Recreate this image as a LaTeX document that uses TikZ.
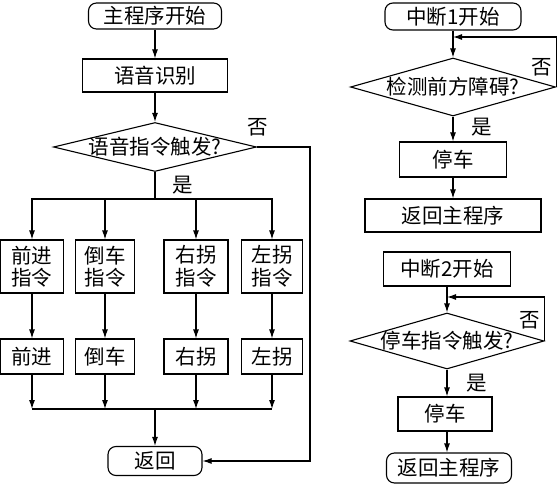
\documentclass[tikz,border=0pt]{standalone}
\usepackage{fontspec}
\setmainfont{Noto Sans CJK SC}
\usetikzlibrary{arrows.meta,shapes.geometric}

\begin{document}
\begin{tikzpicture}[x=1pt, y=-1pt, >={Latex[length=9pt,width=6pt]}, line width=1.1pt, font=\fontsize{20.5}{22.5}\selectfont]
		\tikzstyle{startbox} = [draw, rectangle, rounded corners=8pt, inner sep=0pt]
		\tikzstyle{square} = [draw, rectangle, inner sep=0pt, align=center]
		\tikzstyle{decide} = [draw, diamond, aspect=1, inner sep=0pt]

		\useasboundingbox (0,0) rectangle (560,484);

		% main program
		\begin{scope}
		\path[->]
		node[startbox, minimum width=133pt, minimum height=26pt] (main) at (155,16) {主程序开始}
		node[square, minimum width=145pt, minimum height=33pt] (asr) at (155,75.5) {语音识别}
		node[decide, minimum width=203pt, minimum height=49pt] (dec) at (155,147) {\makebox[0pt]{语音指令触发?}}

		node[square, minimum width=63pt, minimum height=53pt] (cmd1) at (32,266.5) {前进\\指令}
		node[square, minimum width=59pt, minimum height=53pt] (cmd2) at (105,266.5) {倒车\\指令}
		node[square, minimum width=64pt, minimum height=53pt] (cmd3) at (196,266.5) {右拐\\指令}
		node[square, minimum width=61pt, minimum height=53pt] (cmd4) at (272,266.5) {左拐\\指令}

		node[square, minimum width=63pt, minimum height=35pt] (act1) at (32,356.5) {前进}
		node[square, minimum width=59pt, minimum height=35pt] (act2) at (105,356.5) {倒车}
		node[square, minimum width=64pt, minimum height=35pt] (act3) at (196,356.5) {右拐}
		node[square, minimum width=61pt, minimum height=35pt] (act4) at (272,356.5) {左拐}

		node[startbox, minimum width=94pt, minimum height=29pt] (ret) at (155,461) {返回}
		node (no) at (258,127) {否}
		node (yes) at (183,185) {是}

		(main) edge[->] (asr)
		(asr) edge[->] (dec)
		(cmd1) edge[->] (act1)
		(cmd2) edge[->] (act2)
		(cmd3) edge[->] (act3)
		(cmd4) edge[->] (act4)
		;
		\coordinate (split) at (155,199);
		\coordinate (merge) at (155,409);
		\coordinate (noturn) at (310,147);

		\draw (dec.south) -- (split);
		\draw[->] (split) -| (cmd1.north);
		\draw[->] (split) -| (cmd2.north);
		\draw[->] (split) -| (cmd3.north);
		\draw[->] (split) -| (cmd4.north);

		\draw[->] (act1.south) -- (act1.south |- merge);
		\draw[->] (act2.south) -- (act2.south |- merge);
		\draw[->] (act3.south) -- (act3.south |- merge);
		\draw[->] (act4.south) -- (act4.south |- merge);
		\draw (act1.south |- merge) -- (act4.south |- merge);
		\draw[->] (merge) -- (ret.north);

		\draw[->] (dec.east) -- (noturn) |- (ret.east);
		\end{scope}

		% interrupt 1
		\begin{scope}
		\path[->]
		node[startbox, minimum width=136pt, minimum height=27pt] (int1) at (453,16.5) {中断1开始}
		node[decide, minimum width=205pt, minimum height=58pt] (chk1) at (453,87) {\makebox[0pt]{检测前方障碍?}}
		node[square, minimum width=107pt, minimum height=35pt] (stop1) at (453,159.5) {停车}
		node[square, minimum width=176pt, minimum height=33pt] (ret1) at (453,215.5) {返回主程序}
		node (no1) at (542,67) {否}
		node (yes1) at (482,127) {是}

		(int1) edge[->] (chk1)
		(chk1) edge[->] (stop1)
		(stop1) edge[->] (ret1)
		;
		\coordinate (back1) at (453,37);
		\draw[->] (chk1.east) |- (back1);
		\end{scope}

		% interrupt 2
		\begin{scope}
		\path[->]
		node[square, minimum width=127pt, minimum height=34pt] (int2) at (447,269) {中断2开始}
		node[decide, minimum width=194pt, minimum height=56pt] (chk2) at (447,341) {\makebox[0pt]{停车指令触发?}}
		node[square, minimum width=94pt, minimum height=34pt] (stop2) at (445,414) {停车}
		node[startbox, minimum width=125pt, minimum height=30pt] (ret2) at (449,468) {返回主程序}
		node (no2) at (530,320) {否}
		node (yes2) at (477,383) {是}

		(int2) edge[->] (chk2)
		(chk2) edge[->] (stop2.north -| chk2)
		(stop2.south -| chk2) edge[->] (ret2.north -| chk2)
		;
		\coordinate (back2) at (447,297);
		\draw[->] (chk2.east) |- (back2);
		\end{scope}
		\end{tikzpicture}
\end{document}
